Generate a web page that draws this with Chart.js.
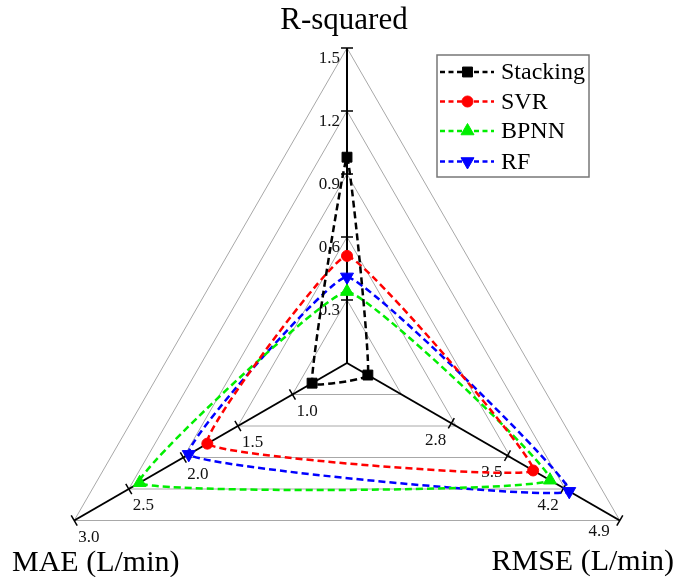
<!DOCTYPE html>
<html>
<head>
<meta charset="utf-8">
<title>Model comparison radar</title>
<script src="https://cdn.jsdelivr.net/npm/chart.js@4.4.0/dist/chart.umd.min.js"></script>
<style>
  html, body { margin: 0; padding: 0; background: #fff; overflow: hidden; }
  #chart { display: block; }
</style>
</head>
<body>
<canvas id="chart" width="685" height="690"></canvas>
<script>
// axes, clockwise from the top
const AXES = ['R-squared', 'RMSE (L/min)', 'MAE (L/min)'];
const AXIS_MIN = [0, 1.5, 0.5];
const AXIS_MAX = [1.5, 4.9, 3.0];
const R2_TICKS = [0.3, 0.6, 0.9, 1.2, 1.5];
const RMSE_TICKS = [2.8, 3.5, 4.2, 4.9];
const MAE_TICKS = [1.0, 1.5, 2.0, 2.5, 3.0];

const MODELS = ['Stacking', 'SVR', 'BPNN', 'RF'];
// R-squared, RMSE, MAE
const STACKING = [0.98, 1.76, 0.82];
const SVR      = [0.51, 3.82, 1.78];
const BPNN     = [0.34, 4.03, 2.40];
const RF       = [0.41, 4.27, 1.95];

const LEVELS = 5;
const SERIF = '"Liberation Serif", "Times New Roman", serif';

// every axis has its own range, so map values onto 0..LEVELS of the shared radial scale
function toLevel(axis, v) {
  return (v - AXIS_MIN[axis]) / (AXIS_MAX[axis] - AXIS_MIN[axis]) * LEVELS;
}

function series(label, values, color, style, radius, rotation) {
  return {
    label: label,
    data: values.map((v, i) => toLevel(i, v)),
    borderColor: color,
    backgroundColor: color,
    borderWidth: 2.5,
    borderDash: [7, 4],
    fill: false,
    tension: 0.1,
    pointStyle: style,
    pointRadius: radius,
    pointRotation: rotation || 0,
    pointBackgroundColor: color,
    pointBorderColor: color,
    pointBorderWidth: 1
  };
}

const datasets = [
  series(MODELS[0], STACKING, '#000000', 'rect', 7),
  series(MODELS[1], SVR, '#ff0000', 'circle', 5.5),
  series(MODELS[2], BPNN, '#00ee00', 'triangle', 7.5),
  series(MODELS[3], RF, '#0000ff', 'triangle', 7.5, 180)
];

function drawMarker(ctx, ds, x, y) {
  const r = ds.pointRadius;
  ctx.save();
  ctx.fillStyle = ds.pointBackgroundColor;
  ctx.strokeStyle = ds.pointBorderColor;
  ctx.lineWidth = 1;
  ctx.setLineDash([]);
  ctx.beginPath();
  if (ds.pointStyle === 'rect') {
    const h = r * Math.SQRT1_2;
    ctx.rect(x - h, y - h, 2 * h, 2 * h);
  } else if (ds.pointStyle === 'circle') {
    ctx.arc(x, y, r, 0, Math.PI * 2);
  } else {
    const dir = ds.pointRotation === 180 ? -1 : 1;
    ctx.moveTo(x, y - dir * r);
    ctx.lineTo(x + r * 0.866, y + dir * r / 2);
    ctx.lineTo(x - r * 0.866, y + dir * r / 2);
    ctx.closePath();
  }
  ctx.fill();
  ctx.stroke();
  ctx.restore();
}

// tick marks and tick labels along the three axes
const axisTicks = {
  id: 'axisTicks',
  beforeDatasetsDraw(chart) {
    const s = chart.scales.r;
    const ctx = chart.ctx;
    ctx.save();
    ctx.strokeStyle = '#000';
    ctx.lineWidth = 1.5;
    ctx.fillStyle = '#111';
    ctx.font = '17px ' + SERIF;
    ctx.textBaseline = 'middle';
    [R2_TICKS, RMSE_TICKS, MAE_TICKS].forEach((ticks, axis) => {
      ticks.forEach((v, k) => {
        const p = s.getPointPositionForValue(axis, toLevel(axis, v));
        const dx = p.x - s.xCenter, dy = p.y - s.yCenter;
        const len = Math.hypot(dx, dy);
        const nx = -dy / len, ny = dx / len;
        ctx.beginPath();
        ctx.moveTo(p.x - 6 * nx, p.y - 6 * ny);
        ctx.lineTo(p.x + 6 * nx, p.y + 6 * ny);
        ctx.stroke();
        const text = v.toFixed(1);
        if (axis === 0) {
          ctx.textAlign = 'right';
          ctx.fillText(text, p.x - 7, p.y + 11);
        } else if (axis === 1) {
          ctx.textAlign = 'right';
          const last = k === ticks.length - 1;
          ctx.fillText(text, p.x - (last ? 10 : 5), p.y + (last ? 11 : 17));
        } else {
          ctx.textAlign = 'left';
          ctx.fillText(text, p.x + 4, p.y + 17);
        }
      });
    });
    ctx.restore();
  },
  afterDraw(chart) {
    const ctx = chart.ctx;
    ctx.save();
    // axis titles
    ctx.fillStyle = '#000';
    ctx.font = '31px ' + SERIF;
    ctx.textBaseline = 'alphabetic';
    ctx.textAlign = 'center';
    ctx.fillText(AXES[0], 344, 29);
    ctx.font = '30px ' + SERIF;
    ctx.textAlign = 'left';
    ctx.fillText(AXES[2], 12, 571);
    ctx.textAlign = 'right';
    ctx.fillText(AXES[1], 674, 570);

    // legend box
    const bx = 437, by = 55, bw = 152, bh = 122;
    ctx.fillStyle = '#fff';
    ctx.fillRect(bx, by, bw, bh);
    ctx.strokeStyle = '#777';
    ctx.lineWidth = 1.5;
    ctx.strokeRect(bx, by, bw, bh);
    const rows = [72, 101.5, 131, 161.5];
    ctx.font = '24px ' + SERIF;
    ctx.textBaseline = 'middle';
    ctx.textAlign = 'left';
    chart.data.datasets.forEach((ds, i) => {
      const y = rows[i];
      ctx.strokeStyle = ds.borderColor;
      ctx.lineWidth = 2.5;
      ctx.setLineDash([5, 3.5]);
      ctx.beginPath();
      ctx.moveTo(440, y);
      ctx.lineTo(494, y);
      ctx.stroke();
      ctx.setLineDash([]);
      drawMarker(ctx, ds, 467.5, y);
      ctx.fillStyle = '#000';
      ctx.fillText(ds.label, 501, y + 1);
    });
    ctx.restore();
  }
};

new Chart(document.getElementById('chart'), {
  type: 'radar',
  data: { labels: AXES, datasets: datasets },
  options: {
    responsive: false,
    devicePixelRatio: 1,
    animation: false,
    layout: { padding: { left: 32, top: 48, right: 23, bottom: 12 } },
    plugins: { legend: { display: false }, tooltip: { enabled: false } },
    elements: { line: { capBezierPoints: false } },
    scales: {
      r: {
        min: 0,
        max: LEVELS,
        ticks: { display: false, stepSize: 1 },
        pointLabels: { display: false },
        grid: { color: '#a8a8a8', lineWidth: 1 },
        angleLines: { color: '#000', lineWidth: 2 }
      }
    }
  },
  plugins: [axisTicks]
});
</script>
</body>
</html>
